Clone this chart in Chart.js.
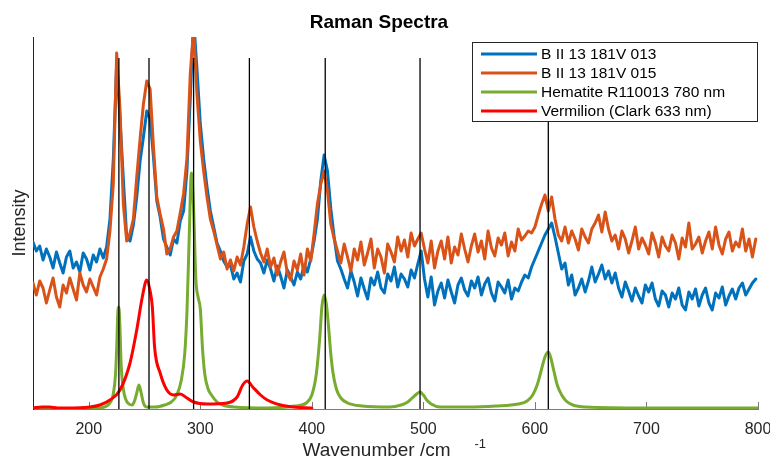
<!DOCTYPE html>
<html>
<head>
<meta charset="utf-8">
<script src="https://cdn.jsdelivr.net/npm/chart.js@4.4.1/dist/chart.umd.min.js"></script>
<style>
  html, body { margin: 0; padding: 0; background: #fff; }
</style>
</head>
<body>
<canvas id="ramanChart" width="770" height="459"></canvas>
<script>
// wavenumber grid of the two measured spectra (cm-1)
const scanStart = 150;
const scanStep = 3;

// measured spectra, arbitrary intensity units
const sample013 = [
  167,158,163,149,160,152,141,157,146,136,
  152,158,141,147,137,156,150,139,154,147,
  160,151,162,190,250,345,290,230,172,168,
  184,212,248,272,298,290,252,208,192,170,
  162,154,170,166,188,198,238,310,390,340,
  285,250,222,198,182,166,158,148,142,144,
  130,136,127,148,155,172,158,150,146,136,
  149,140,128,143,133,121,139,132,124,137,
  130,144,137,150,168,190,228,254,238,200,
  172,148,140,130,121,138,127,113,131,120,
  110,131,124,137,121,116,135,128,142,122,
  135,130,122,139,131,145,158,130,112,132,
  104,118,126,111,129,117,106,124,131,119,
  113,128,121,132,114,125,131,116,108,127,
  122,116,129,110,121,118,127,134,131,142,
  150,158,166,174,180,186,172,156,140,146,
  124,134,114,121,130,117,128,142,127,135,
  144,130,138,126,136,121,112,127,118,108,
  121,113,106,124,117,126,110,103,118,114,
  102,116,110,121,104,99,117,110,120,103,
  114,121,106,99,116,111,122,104,113,120,
  110,121,126,114,120,126,130
];

const sample015 = [
  126,114,128,121,106,119,131,112,102,124,
  116,131,120,109,136,124,117,130,122,114,
  132,140,150,178,225,356,300,205,168,176,
  190,232,270,305,328,320,262,212,195,180,
  155,160,172,178,196,215,250,335,380,315,
  268,238,212,190,178,164,150,157,140,149,
  138,152,144,162,185,202,182,168,156,147,
  160,142,151,134,147,157,136,129,148,139,
  155,134,160,148,175,205,225,238,218,185,
  170,158,146,165,152,138,160,149,167,144,
  156,170,141,160,152,136,165,157,147,172,
  158,169,152,176,163,170,176,160,146,168,
  141,158,168,150,172,146,162,154,175,160,
  147,163,175,157,168,150,178,161,153,171,
  164,176,153,167,158,180,169,173,178,176,
  182,194,205,214,198,212,190,174,168,182,
  166,178,170,159,180,172,166,180,186,194,
  177,197,180,168,174,160,178,170,156,168,
  182,160,171,164,155,176,166,152,172,163,
  158,174,166,150,171,162,186,160,165,172,
  156,168,177,160,182,164,155,170,177,158,
  167,162,180,158,170,152,170
];

// reference spectra
const hematiteShift = [
  150,200,210,216,220,222,224,225,226,227,228,229,231,233,236,239,241,243,245,247,
  249,252,260,268,274,279,283,286,288,290,292,294,296,298,300,302,304,307,310,315,
  320,330,360,385,395,400,404,407,409,411,413,415,417,419,422,426,432,445,470,480,
  486,490,494,497,500,503,507,515,540,565,585,593,598,602,606,609,612,614,617,620,
  624,628,634,645,700,800
];
const hematiteIntensity = [
  0,0,1,3,8,15,35,60,95,102,80,45,20,10,5,4,8,16,24,16,
  6,2,2,4,7,14,29,55,96,170,236,200,130,112,100,60,35,20,14,7,
  4,2,1,3,6,14,35,70,102,114,105,82,55,36,20,11,6,3,2,4,
  7,11,15,17,14,9,5,2,2,3,5,8,14,24,40,52,57,52,38,24,
  14,8,4,2,1,1
];

const vermilionShift = [
  150,158,165,172,180,201,210,219,228,237,243,248,252,255,257,259,264,270,276,282,
  288,294,306,324,333,338,342,347,354,360,372,383,400
];
const vermilionIntensity = [
  1,2,2,1,1,2,4,9,19,46,79,112,129,118,102,62,36,19,14,15,
  11,7,5,6,12,24,28,22,14,9,4,2,1
];

// marked band positions (cm-1)
const bandMarkers = [227, 254, 294, 344, 412, 497, 612];
const bandMarkerTop = 351;

const xTickValues = [200, 300, 400, 500, 600, 700, 800];
const seriesLabels = ['B II 13 181V 013', 'B II 13 181V 015', 'Hematite R110013 780 nm', 'Vermilion (Clark 633 nm)'];
const seriesColors = ['#0072BD', '#D95319', '#77AC30', '#FF0000'];

const fontFamily = "'Liberation Sans', Arial, Helvetica, sans-serif";

function scanPoints(values) {
    return values.map((v, i) => ({ x: scanStart + i * scanStep, y: v }));
}

function pairPoints(xs, ys) {
    return xs.map((x, i) => ({ x: x, y: ys[i] }));
}

const ramanDecor = {
    id: 'ramanDecor',
    beforeDatasetsDraw(chart) {
        const { ctx, chartArea, scales } = chart;
        // inward ticks on the wavenumber axis
        ctx.save();
        ctx.strokeStyle = '#7a7a7a';
        ctx.lineWidth = 1;
        xTickValues.forEach(v => {
            const px = Math.round(scales.x.getPixelForValue(v)) + 0.5;
            ctx.beginPath();
            ctx.moveTo(px, chartArea.bottom);
            ctx.lineTo(px, chartArea.bottom - 7);
            ctx.stroke();
        });
        ctx.restore();
    },
    afterDatasetsDraw(chart) {
        const { ctx, scales } = chart;
        ctx.save();
        ctx.strokeStyle = '#000';
        ctx.lineWidth = 1.3;
        bandMarkers.forEach(v => {
            const px = scales.x.getPixelForValue(v);
            ctx.beginPath();
            ctx.moveTo(px, scales.y.getPixelForValue(bandMarkerTop));
            ctx.lineTo(px, scales.y.getPixelForValue(0));
            ctx.stroke();
        });
        ctx.restore();
    },
    afterDraw(chart) {
        const { ctx, chartArea } = chart;
        ctx.save();

        // x axis label with its raised exponent
        const cx = (chartArea.left + chartArea.right) / 2 - 19;
        ctx.fillStyle = '#262626';
        ctx.textBaseline = 'middle';
        ctx.textAlign = 'center';
        ctx.font = '19px ' + fontFamily;
        ctx.fillText('Wavenumber /cm', cx, chartArea.bottom + 42);
        ctx.textAlign = 'left';
        ctx.font = '13px ' + fontFamily;
        ctx.fillText('-1', cx + 98, chartArea.bottom + 35);

        // legend box
        const boxW = 286, boxH = 80;
        const bx = chartArea.right - boxW, by = chartArea.top + 5;
        ctx.fillStyle = '#fff';
        ctx.fillRect(bx, by, boxW, boxH);
        ctx.strokeStyle = '#262626';
        ctx.lineWidth = 1;
        ctx.strokeRect(bx + 0.5, by + 0.5, boxW - 1, boxH - 1);
        ctx.font = '15.5px ' + fontFamily;
        chart.data.datasets.forEach((ds, i) => {
            const ry = by + 12 + i * 19;
            ctx.strokeStyle = ds.borderColor;
            ctx.lineWidth = 3;
            ctx.beginPath();
            ctx.moveTo(bx + 9, ry);
            ctx.lineTo(bx + 65, ry);
            ctx.stroke();
            ctx.fillStyle = '#000';
            ctx.fillText(ds.label, bx + 69, ry + 1);
        });
        ctx.restore();
    }
};

const ctx = document.getElementById('ramanChart').getContext('2d');
new Chart(ctx, {
    type: 'line',
    plugins: [ramanDecor],
    data: {
        datasets: [
            { label: seriesLabels[0], data: scanPoints(sample013), borderColor: seriesColors[0], borderWidth: 3, order: 4 },
            { label: seriesLabels[1], data: scanPoints(sample015), borderColor: seriesColors[1], borderWidth: 3, order: 3 },
            { label: seriesLabels[2], data: pairPoints(hematiteShift, hematiteIntensity), borderColor: seriesColors[2], borderWidth: 3, cubicInterpolationMode: 'monotone', order: 2 },
            { label: seriesLabels[3], data: pairPoints(vermilionShift, vermilionIntensity), borderColor: seriesColors[3], borderWidth: 3, cubicInterpolationMode: 'monotone', order: 1 }
        ]
    },
    options: {
        responsive: false,
        animation: false,
        devicePixelRatio: 1,
        elements: {
            point: { radius: 0 },
            line: { borderJoinStyle: 'round', borderCapStyle: 'round' }
        },
        layout: { padding: { left: 0, right: 12, top: 0, bottom: 0 } },
        scales: {
            x: {
                type: 'linear',
                min: 150,
                max: 800,
                afterBuildTicks(scale) {
                    scale.ticks = xTickValues.map(v => ({ value: v }));
                },
                afterFit(scale) {
                    scale.height = 50;
                    scale.paddingLeft = 0;
                    scale.paddingRight = 0;
                },
                border: { display: true, color: '#7a7a7a', width: 1 },
                grid: { display: false, drawTicks: false },
                ticks: {
                    color: '#262626',
                    font: { family: fontFamily, size: 16 },
                    padding: 11,
                    maxRotation: 0,
                    autoSkip: false
                }
            },
            y: {
                min: 0,
                max: 372,
                afterFit(scale) {
                    scale.width = 33;
                },
                border: { display: true, color: '#262626', width: 1 },
                grid: { display: false, drawTicks: false },
                ticks: { display: false },
                title: {
                    display: true,
                    text: 'Intensity',
                    color: '#262626',
                    font: { family: fontFamily, size: 18 },
                    padding: { top: 9, bottom: 0 }
                }
            }
        },
        plugins: {
            legend: { display: false },
            tooltip: { enabled: false },
            title: {
                display: true,
                text: 'Raman Spectra',
                color: '#000',
                font: { family: fontFamily, size: 19, weight: 'bold' },
                padding: { top: 11.6, bottom: 2.6 }
            }
        }
    }
});
</script>
</body>
</html>
